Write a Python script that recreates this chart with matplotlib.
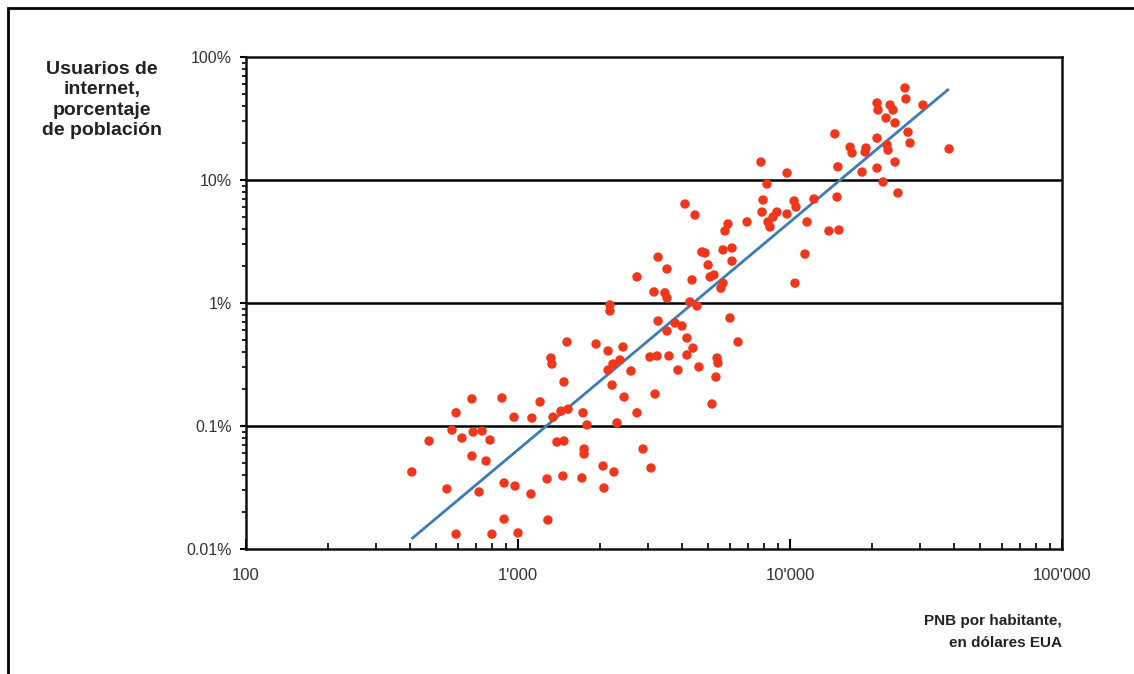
import matplotlib
matplotlib.use("Agg")
import matplotlib.pyplot as plt
from matplotlib.patches import Rectangle
from matplotlib.ticker import FixedLocator, LogLocator, NullFormatter

plt.rcParams['font.family'] = ['Liberation Sans', 'DejaVu Sans']

# GNI per capita (US$) and internet users (% of population)
gni = [407, 471, 548, 572, 592, 592, 622, 677, 677, 684,
       719, 738, 763, 789, 802, 873, 889, 889, 967, 975,
       1000, 1116, 1125, 1205, 1279, 1288, 1345, 1390, 1439, 1462,
       1476, 1476, 1528, 1718, 1734, 1750, 1750, 1794, 2054, 2070,
       2143, 2218, 2253, 2312, 2455, 2602, 2738, 2882, 3083, 3190,
       1321, 1333, 1514, 1936, 2143, 2432, 2234, 2371, 5168, 5341,
       4627, 3873, 4180, 3590, 3055, 3245, 5395, 5433, 4397, 6440,
       4180, 3530, 3273, 3778, 4008, 6015, 2178, 2178, 4287, 4550,
       3162, 3469, 3530, 2738, 4362, 5084, 5254, 5672, 5572, 10430,
       3273, 3530, 5000, 6120, 11350, 4744, 4870, 5672, 6120, 5916,
       5768, 6950, 8300, 8440, 11550, 13900, 15130, 7890, 8950, 8660,
       9750, 7960, 10350, 10520, 12250, 14890, 4111, 4475, 7820, 9750,
       8230, 15000, 18400, 20890, 24330, 21990, 24950, 16630, 16910, 19030,
       18880, 22740, 22930, 27620, 27150, 38450, 14620, 20890, 24330, 22550,
       20890, 21070, 23330, 23930, 30830, 26470, 26680]
internet = [0.0423, 0.0755, 0.0308, 0.0927, 0.128, 0.0132, 0.0798, 0.166, 0.0570, 0.0893,
            0.0291, 0.0910, 0.0519, 0.0769, 0.0132, 0.169, 0.0344, 0.0175, 0.118, 0.0325,
            0.0135, 0.0280, 0.116, 0.157, 0.0371, 0.0172, 0.118, 0.0741, 0.132, 0.0392,
            0.0755, 0.228, 0.137, 0.0378, 0.128, 0.0650, 0.0592, 0.102, 0.0473, 0.0313,
            0.285, 0.215, 0.0423, 0.106, 0.172, 0.280, 0.128, 0.0650, 0.0456, 0.182,
            0.357, 0.319, 0.482, 0.464, 0.407, 0.439, 0.319, 0.344, 0.151, 0.250,
            0.302, 0.285, 0.378, 0.371, 0.364, 0.371, 0.357, 0.325, 0.430, 0.482,
            0.519, 0.592, 0.714, 0.687, 0.650, 0.755, 0.964, 0.861, 1.02, 0.946,
            1.23, 1.21, 1.10, 1.63, 1.54, 1.63, 1.69, 1.45, 1.32, 1.45,
            2.36, 1.89, 2.04, 2.19, 2.50, 2.60, 2.55, 2.70, 2.80, 4.39,
            3.85, 4.56, 4.56, 4.15, 4.56, 3.85, 3.92, 5.49, 5.49, 5.00,
            5.29, 6.88, 6.75, 6.03, 7.01, 7.27, 6.38, 5.19, 14.0, 11.4,
            9.27, 12.8, 11.6, 12.5, 14.0, 9.63, 7.84, 18.5, 16.6, 18.2,
            16.9, 19.3, 17.5, 20.0, 24.5, 17.9, 23.7, 21.9, 29.1, 31.9,
            42.3, 37.1, 40.7, 37.1, 40.7, 56.0, 45.6]

# regression line endpoints
trend_gni = [410, 38000]
trend_pct = [0.0123, 54]

x_ticks = [100, 1000, 10000, 100000]
x_labels = ["100", "1'000", "10'000", "100'000"]
y_ticks = [0.01, 0.1, 1, 10, 100]
y_labels = ["0.01%", "0.1%", "1%", "10%", "100%"]
grid_levels = [0.1, 1, 10]

W, H = 1134, 674
fig = plt.figure(figsize=(W / 100, H / 100), dpi=100)
fig.patch.set_facecolor('white')

# outer frame (only top and left visible)
fig.patches.append(Rectangle((8 / W, -0.1), 1.2, 1 - 8 / H + 0.1, transform=fig.transFigure,
                             fill=False, edgecolor='black', linewidth=2.0))

ax = fig.add_axes([246 / W, 1 - 549 / H, (1062 - 246) / W, (549 - 57) / H])
ax.set_xscale('log')
ax.set_yscale('log')
ax.set_xlim(100, 100000)
ax.set_ylim(0.01, 100)

for lv in grid_levels:
    ax.axhline(lv, color='black', linewidth=1.8, zorder=1)

ax.plot(trend_gni, trend_pct, color='#3d7ab8', linewidth=2.0, zorder=2)
ax.scatter(gni, internet, s=46, color='#f2361b', edgecolors='none', zorder=3)

for sp in ax.spines.values():
    sp.set_linewidth(1.8)
    sp.set_color('#111111')

ax.xaxis.set_major_locator(FixedLocator(x_ticks))
ax.set_xticklabels(x_labels)
ax.xaxis.set_minor_locator(LogLocator(base=10, subs=range(2, 10)))
ax.xaxis.set_minor_formatter(NullFormatter())
ax.yaxis.set_major_locator(FixedLocator(y_ticks))
ax.set_yticklabels(y_labels)
ax.yaxis.set_minor_locator(LogLocator(base=10, subs=range(2, 10)))
ax.yaxis.set_minor_formatter(NullFormatter())

ax.tick_params(axis='x', which='major', direction='in', length=7, width=1.5,
               pad=14, labelsize=12, labelcolor='#333333')
ax.tick_params(axis='x', which='minor', direction='in', length=4, width=1.2)
ax.tick_params(axis='y', which='major', direction='out', length=4, width=1.5,
               pad=6, labelsize=11.5, labelcolor='#333333')
ax.tick_params(axis='y', which='minor', direction='out', length=3, width=1.2)

fig.text(102 / W, 1 - 100 / H, "Usuarios de\ninternet,\nporcentaje\nde población",
         ha='center', va='center', fontsize=14, fontweight='bold', color='#222222',
         linespacing=1.25)
fig.text(1062 / W, 1 - 632 / H, "PNB por habitante,\nen dólares EUA",
         ha='right', va='center', fontsize=11, fontweight='bold', color='#222222',
         linespacing=1.65)

fig.savefig('out.png', dpi=100)
